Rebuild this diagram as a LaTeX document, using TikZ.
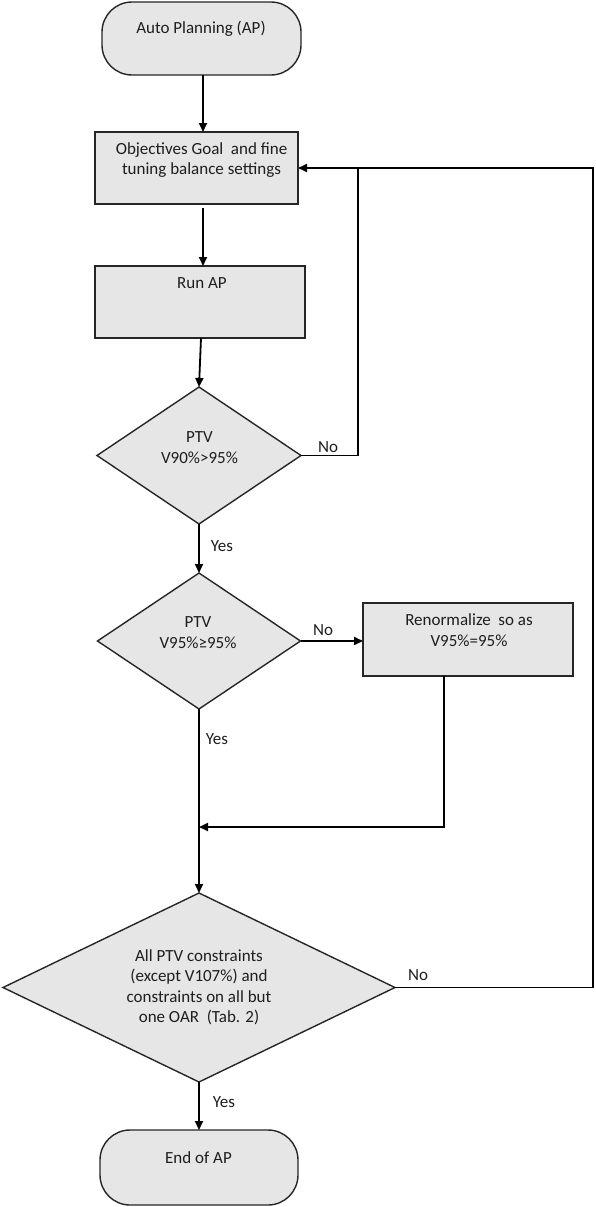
\documentclass[tikz,border=0pt]{standalone}
\usepackage{fontspec}
\setmainfont{Carlito}
\usetikzlibrary{arrows.meta,shapes.geometric}
\definecolor{fillg}{HTML}{E6E6E6}
\definecolor{lineg}{HTML}{262626}
\definecolor{textg}{HTML}{1E1E1E}
\tikzset{
  shp/.style={draw=lineg, fill=fillg, line width=1.4pt, inner sep=0pt, outer sep=0pt},
  term/.style={shp, rectangle, rounded corners=30pt},
  proc/.style={shp, rectangle},
  dec/.style={shp, diamond},
  txt/.style={text=textg, align=center, inner sep=0pt, font=\fontsize{17}{20.5}\selectfont},
  conn/.style={draw=black, line width=1.8pt},
  arr/.style={conn, -{Triangle[length=9pt,width=8pt]}},
  lbl/.style={text=textg, inner sep=0pt, font=\fontsize{17}{20.5}\selectfont}
}
\begin{document}
\begin{tikzpicture}[x=1pt,y=-1pt]
\useasboundingbox (0,0) rectangle (596,1207);
% shapes
\node[term, minimum width=199pt, minimum height=73pt] (start) at (201.5,38.5) {};
\node[proc, minimum width=203pt, minimum height=72pt] (obj) at (196.5,168) {};
\node[proc, minimum width=210pt, minimum height=72pt] (run) at (200,302) {};
\node[dec, minimum width=204pt, minimum height=137pt] (d1) at (199,455.5) {};
\node[dec, minimum width=203pt, minimum height=136pt] (d2) at (199,641) {};
\node[proc, minimum width=210pt, minimum height=73pt] (ren) at (468,639.5) {};
\node[dec, minimum width=392pt, minimum height=189pt] (d3) at (199,987.5) {};
\node[term, minimum width=198pt, minimum height=75pt] (end) at (199,1167.5) {};
% texts
\node[txt] (tstart) at (201,29) {Auto Planning (AP)};
\node[txt] (tobj) at (201.5,160) {Objectives Goal\ \ and fine\\tuning balance settings};
\node[txt] (trun) at (202,283) {Run AP};
\node[txt] (td1) at (199.5,447.5) {PTV\\V90\%>95\%};
\node[txt] (td2) at (198,632.5) {PTV\\V95\%≥95\%};
\node[txt] (tren) at (469,630) {Renormalize\ \ so as\\V95\%=95\%};
\node[txt] (td3) at (199,987.5) {All PTV constraints\\(except V107\%) and\\constraints on all but\\one OAR\ \ (Tab. 2)};
\node[txt] (tend) at (198.5,1158) {End of AP};
% junction coordinates
\coordinate (jtop) at (358,168);
\coordinate (jmid) at (199,827);
\coordinate (rturn) at (444,827);
% connectors
\draw[arr] ([xshift=1.5pt]start.south) -- ([xshift=6.5pt]obj.north);
\draw[arr] ([xshift=6.5pt,yshift=-4pt]obj.south) -- ([xshift=3pt]run.north);
\draw[arr] ([xshift=1pt]run.south) -- (d1.north);
\draw[arr] (d1.east) -| (jtop) -- (obj.east);
\draw[conn] (d3.east) -| (593,168) -- (jtop);
\draw[arr] (d1.south) -- (d2.north);
\draw[arr] (d2.east) -- (ren.west |- d2.east);
\draw[arr] ([xshift=-24pt]ren.south) -- (rturn) -- (jmid);
\draw[arr] (d2.south) -- (d3.north);
\draw[arr] (d3.south) -- (end.north);
% labels
\node[lbl] (l1) at (328,447) {No};
\node[lbl] (l2) at (222,546) {Yes};
\node[lbl] (l3) at (323,630) {No};
\node[lbl] (l4) at (217,739) {Yes};
\node[lbl] (l5) at (418,975) {No};
\node[lbl] (l6) at (224,1102) {Yes};
\end{tikzpicture}
\end{document}
